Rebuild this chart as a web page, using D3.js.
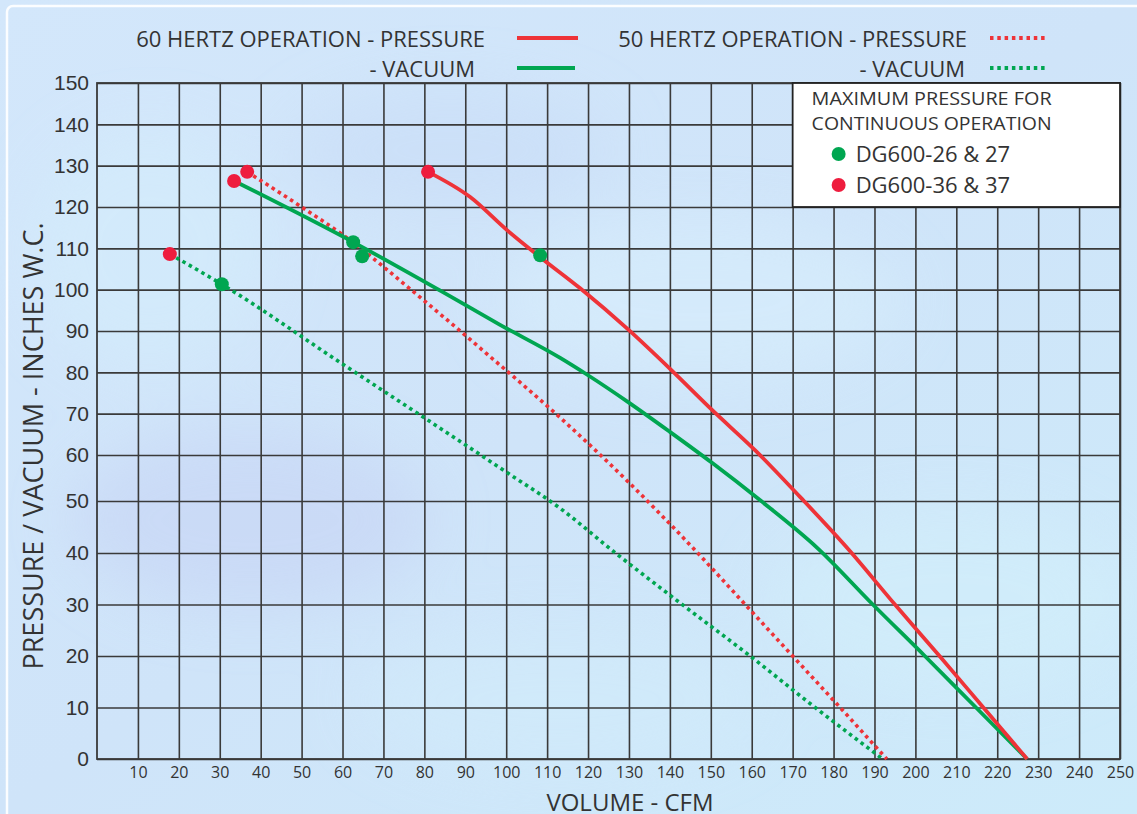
<!DOCTYPE html>
<html>
<head>
<meta charset="utf-8">
<script src="https://cdn.jsdelivr.net/npm/d3@7/dist/d3.min.js"></script>
<style>
  html, body { margin: 0; padding: 0; background: #d0e5f9; }
  svg { display: block; }
</style>
</head>
<body>
<svg id="chart" width="1137" height="814"></svg>
<script>
// ---------- DATA ----------
const xTickValues = [10,20,30,40,50,60,70,80,90,100,110,120,130,140,150,160,170,180,190,200,210,220,230,240,250];
const yTickValues = [0,10,20,30,40,50,60,70,80,90,100,110,120,130,140,150];

// 60 Hz pressure (solid red)
const pressure60 = [[80.9,128.5],[91.2,122.4],[100.2,114.4],[108,108.1],[118,100.4],[130,90.2],[140.3,80.6],[150.3,70.9],[161.3,60.7],[171.8,50.9],[183.3,41],[195,30],[205.9,20],[216.6,10],[227.3,0]];
// 60 Hz vacuum (solid green)
const vacuum60 = [[33.5,126.3],[62.6,111.5],[84,99.7],[98.5,91.5],[113.2,83.5],[120,79.3],[129.8,72.8],[140,65.6],[150.3,58.3],[162,50.2],[176,41],[189.6,30],[202.3,20],[214.8,10],[227.3,0]];
// 50 Hz pressure (dotted red)
const pressure50 = [[36.7,128.5],[50.3,119.8],[60,113.3],[78.9,98.2],[95,84.7],[113,69.2],[130,54],[145.6,41],[158.4,30],[170,20],[181.6,10],[193,0]];
// 50 Hz vacuum (dotted green)
const vacuum50 = [[17.8,108.6],[30.5,101.3],[60,82],[80,69],[100,56.3],[113,48.7],[126.7,40],[143,30],[159.6,20],[175.5,10],[192,0]];

// Maximum pressure for continuous operation markers
const dotsDG26 = [[62.6,111.5],[64.8,108.1],[108.3,108.3],[30.5,101.3]];
const dotsDG36 = [[33.5,126.3],[36.7,128.5],[80.9,128.5],[17.8,108.6]];

const legendLines = ["60 HERTZ OPERATION - PRESSURE","- VACUUM","50 HERTZ OPERATION - PRESSURE","- VACUUM"];
const boxTitle = ["MAXIMUM PRESSURE FOR","CONTINUOUS OPERATION"];
const boxItems = ["DG600-26 & 27","DG600-36 & 37"];

// ---------- STYLE ----------
const RED = "#ee3338", GREEN = "#00a651", DOTRED = "#ee1d3e", GRID = "#3a3a3a";
const uiFont = "'Open Sans','Noto Sans',sans-serif";
const numFont = "'Liberation Sans',Arial,sans-serif";

const svg = d3.select("#chart");

// background
const defs = svg.append("defs");
const bg = defs.append("linearGradient").attr("id","bg").attr("x1","0").attr("y1","0").attr("x2","1").attr("y2","1");
bg.append("stop").attr("offset","0%").attr("stop-color","#d3e7fb");
bg.append("stop").attr("offset","50%").attr("stop-color","#cfe4f9");
bg.append("stop").attr("offset","100%").attr("stop-color","#cdebfa");
const blur = defs.append("filter").attr("id","blur").attr("x","-50%").attr("y","-50%").attr("width","200%").attr("height","200%");
blur.append("feGaussianBlur").attr("stdDeviation", 30);
svg.append("rect").attr("width",1137).attr("height",814).attr("fill","url(#bg)");
const blobs = svg.append("g").attr("filter","url(#blur)").attr("opacity",0.55);
[[250,520,180,90,"#c6d3f4"],[700,300,200,80,"#d9f0fd"],[450,150,160,60,"#c8dcf7"],[950,600,180,90,"#d3f0fb"],[150,250,120,120,"#d4eefc"],[560,700,200,70,"#d2ecfb"]]
  .forEach(b => blobs.append("ellipse").attr("cx",b[0]).attr("cy",b[1]).attr("rx",b[2]).attr("ry",b[3]).attr("fill",b[4]));
// white frame
svg.append("rect").attr("x",7).attr("y",6).attr("width",1160).attr("height",840).attr("rx",6)
  .attr("fill","none").attr("stroke","#ffffff").attr("stroke-width",2.5).attr("opacity",0.9);

// ---------- SCALES ----------
const plotLeft = 97, plotRight = 1120;
const x = d3.scaleLinear().domain([0,250]).range([plotLeft,plotRight]);
const y = d3.scaleLinear().domain([0,40,50,60,150]).range([759,553,501,455,83]);
const plotTop = y(150), plotBottom = y(0);

// grid
const gridX = svg.append("g").attr("transform",`translate(0,${plotBottom})`)
  .call(d3.axisBottom(x).tickValues(xTickValues).tickSize(-(plotBottom-plotTop)).tickFormat(""));
const gridY = svg.append("g").attr("transform",`translate(${plotLeft},0)`)
  .call(d3.axisLeft(y).tickValues(yTickValues).tickSize(-(plotRight-plotLeft)).tickFormat(""));
[gridX, gridY].forEach(g => {
  g.select(".domain").remove();
  g.selectAll("line").attr("stroke",GRID).attr("stroke-width",1.6);
});
svg.append("rect").attr("x",plotLeft).attr("y",plotTop).attr("width",plotRight-plotLeft).attr("height",plotBottom-plotTop)
  .attr("fill","none").attr("stroke",GRID).attr("stroke-width",1.8);

// axis labels
const xAxis = svg.append("g").attr("transform",`translate(0,${plotBottom})`)
  .call(d3.axisBottom(x).tickValues(xTickValues).tickSize(0).tickPadding(8));
xAxis.select(".domain").remove();
xAxis.selectAll("text").attr("font-family",uiFont).attr("font-size",16).attr("fill","#333");

const yAxis = svg.append("g").attr("transform",`translate(${plotLeft},0)`)
  .call(d3.axisLeft(y).tickValues(yTickValues).tickSize(0).tickPadding(8));
yAxis.select(".domain").remove();
yAxis.selectAll("text").attr("font-family",numFont).attr("font-size",21).attr("fill","#333");

svg.append("text").attr("x",630).attr("y",811).attr("text-anchor","middle")
  .attr("font-family",uiFont).attr("font-size",24).attr("fill","#333").text("VOLUME - CFM");
svg.append("text").attr("transform","translate(43,446) rotate(-90)").attr("text-anchor","middle")
  .attr("font-family",uiFont).attr("font-size",27).attr("fill","#333").text("PRESSURE / VACUUM - INCHES W.C.");

// ---------- LINES ----------
const line = d3.line().x(d => x(d[0])).y(d => y(d[1])).curve(d3.curveMonotoneX);
const series = [
  {data: vacuum50, color: GREEN, dash: "3.5,3.8"},
  {data: pressure50, color: RED, dash: "3.5,3.8"},
  {data: vacuum60, color: GREEN, dash: null},
  {data: pressure60, color: RED, dash: null}
];
series.forEach(s => {
  svg.append("path").datum(s.data).attr("d",line).attr("fill","none")
    .attr("stroke",s.color).attr("stroke-width",s.dash ? 3.6 : 3.8)
    .attr("stroke-dasharray",s.dash);
});

// dots
svg.append("g").selectAll("circle").data(dotsDG26).join("circle")
  .attr("cx",d => x(d[0])).attr("cy",d => y(d[1])).attr("r",7).attr("fill",GREEN);
svg.append("g").selectAll("circle").data(dotsDG36).join("circle")
  .attr("cx",d => x(d[0])).attr("cy",d => y(d[1])).attr("r",7).attr("fill",DOTRED);

// ---------- TOP LEGEND ----------
const legTop = svg.append("g").attr("font-family",uiFont).attr("font-size",22).attr("fill","#333");
const legPos = [
  {tx:485, ty:47, x1:517, x2:578, ly:38, color:RED, dash:null},
  {tx:475, ty:77, x1:517, x2:575, ly:68, color:GREEN, dash:null},
  {tx:967, ty:47, x1:990, x2:1047, ly:38, color:RED, dash:"3.5,3.8"},
  {tx:965, ty:77, x1:990, x2:1047, ly:68, color:GREEN, dash:"3.5,3.8"}
];
legendLines.forEach((t,i) => {
  const p = legPos[i];
  legTop.append("text").attr("x",p.tx).attr("y",p.ty).attr("text-anchor","end").text(t);
  legTop.append("line").attr("x1",p.x1).attr("x2",p.x2).attr("y1",p.ly).attr("y2",p.ly)
    .attr("stroke",p.color).attr("stroke-width",4).attr("stroke-dasharray",p.dash);
});

// ---------- BOX LEGEND ----------
const bx0 = x(170), by0 = y(150), bx1 = x(250), by1 = y(120);
svg.append("rect").attr("x",bx0).attr("y",by0).attr("width",bx1-bx0).attr("height",by1-by0)
  .attr("fill","#ffffff").attr("stroke","#222").attr("stroke-width",1.8);
const box = svg.append("g").attr("font-family",uiFont).attr("fill","#333");
boxTitle.forEach((t,i) => box.append("text").attr("x",bx0+19).attr("y",by0+22+i*24.5)
  .attr("font-size",18).attr("textLength",240).attr("lengthAdjust","spacingAndGlyphs").text(t));
[GREEN, DOTRED].forEach((c,i) => {
  box.append("circle").attr("cx",bx0+46).attr("cy",by0+71+i*31).attr("r",7).attr("fill",c);
  box.append("text").attr("x",bx0+63).attr("y",by0+79+i*31).attr("font-size",22).text(boxItems[i]);
});
</script>
</body>
</html>
